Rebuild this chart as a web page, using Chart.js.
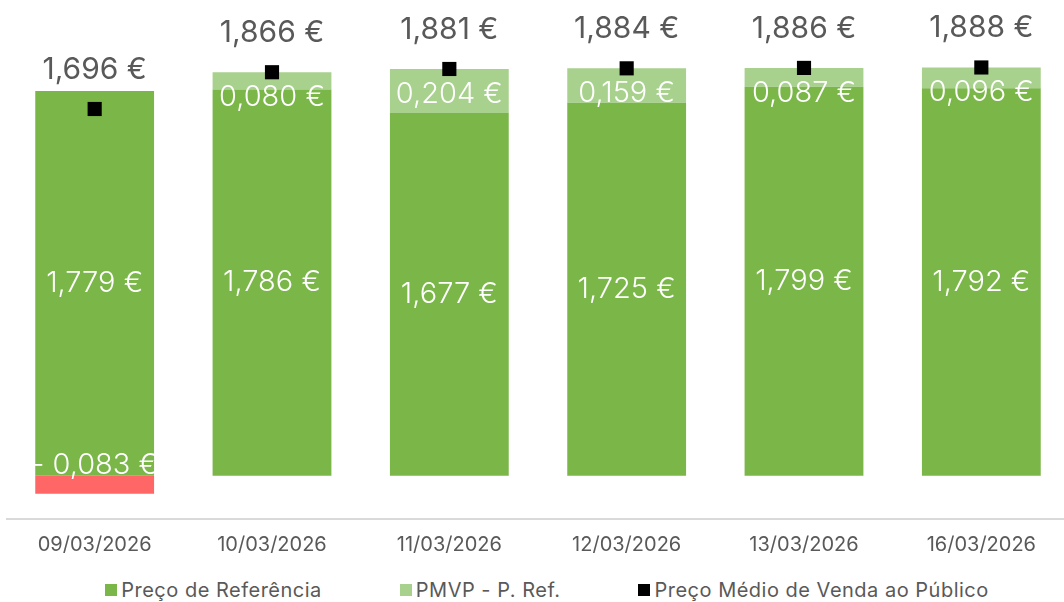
<!DOCTYPE html>
<html>
<head>
<meta charset="utf-8">
<script src="https://cdn.jsdelivr.net/npm/chart.js@4"></script>
<style>
    html, body {margin: 0; padding: 0; background: #fff; width: 1064px; height: 602px; overflow: hidden; position: relative;}
    #wrap {position: absolute; left: 6px; top: 0; width: 1064px; height: 571px;}
    #legend {position: absolute; left: 0; top: 578px; width: 1064px; display: flex; justify-content: center; padding-left: 30px; box-sizing: border-box;
        font: 20px Inter, sans-serif; letter-spacing: 0.5px; color: #595959; line-height: 24px;}
    #legend .item {display: flex; align-items: center; margin-right: 78px;}
    #legend .item:last-child {margin-right: 0;}
    #legend .box {width: 12px; height: 12px; margin-right: 4px;}
</style>
</head>
<body>
<div id="wrap"><canvas id="myChart"></canvas></div>
<div id="legend"></div>
<script>
const datas = ['09/03/2026', '10/03/2026', '11/03/2026', '12/03/2026', '13/03/2026', '16/03/2026'];
const precoReferencia = [1.779, 1.786, 1.677, 1.725, 1.799, 1.792];
const diferenca = [-0.083, 0.080, 0.204, 0.159, 0.087, 0.096];
const precoMedio = [1.696, 1.866, 1.881, 1.884, 1.886, 1.888];

const verde = '#7ab648', verdeClaro = '#a9d18e', vermelho = '#ff6666', cinza = '#595959';

function fmt(v) {
    let s = Math.abs(v).toFixed(3).replace('.', ',') + ' €';
    return v < 0 ? '- ' + s : s;
}

// etiquetas de valor desenhadas por cima das barras
const etiquetas = {
    id: 'etiquetas',
    afterDatasetsDraw(chart) {
        const c = chart.ctx;
        c.save();
        c.textAlign = 'center';
        c.textBaseline = 'middle';

        chart.getDatasetMeta(0).data.forEach(function (el, i) {
            c.font = '300 29px Inter, sans-serif';
            c.fillStyle = '#fff';
            c.fillText(fmt(precoReferencia[i]), el.x, (el.y + el.base) / 2);
        });
        chart.getDatasetMeta(1).data.forEach(function (el, i) {
            c.font = '300 29px Inter, sans-serif';
            c.fillStyle = '#fff';
            if (diferenca[i] < 0) {
                c.fillText(fmt(diferenca[i]), el.x, el.base - 10);
            } else {
                c.fillText(fmt(diferenca[i]), el.x, el.y + 25);
            }
        });
        chart.getDatasetMeta(2).data.forEach(function (el, i) {
            c.font = '400 30px Inter, sans-serif';
            c.fillStyle = cinza;
            c.fillText(fmt(precoMedio[i]), el.x, el.y - 39);
        });
        c.restore();
    }
};

const myChart = new Chart(document.getElementById('myChart'), {
    type: 'bar',
    data: {
        labels: datas,
        datasets: [{
            label: 'Preço de Referência',
            data: precoReferencia,
            backgroundColor: verde,
            stack: 'preco',
            order: 1,
            barPercentage: 0.67,
            categoryPercentage: 1
        }, {
            label: 'PMVP - P. Ref.',
            data: diferenca,
            backgroundColor: function (ctx) {
                return ctx.raw < 0 ? vermelho : verdeClaro;
            },
            stack: 'preco',
            order: 1,
            barPercentage: 0.67,
            categoryPercentage: 1
        }, {
            type: 'line',
            label: 'Preço Médio de Venda ao Público',
            data: precoMedio,
            showLine: false,
            stack: 'pmvp',
            order: 0,
            pointStyle: 'rect',
            pointRadius: 10,
            pointHoverRadius: 10,
            backgroundColor: '#000',
            borderColor: '#000',
            borderWidth: 0
        }]
    },
    options: {
        responsive: true,
        maintainAspectRatio: false,
        animation: false,
        layout: {padding: 0, autoPadding: false},
        plugins: {legend: {display: false}, tooltip: {enabled: false}},
        scales: {
            x: {
                stacked: true,
                grid: {display: false, drawTicks: false},
                border: {display: true, color: '#d9d9d9', width: 2},
                ticks: {color: cinza, font: {family: 'Inter, sans-serif', size: 20}, padding: 14}
            },
            y: {
                stacked: true,
                display: false,
                min: -0.2,
                max: 2.2
            }
        }
    },
    plugins: [etiquetas]
});

// legenda em HTML
const cores = [verde, verdeClaro, '#000'];
myChart.data.datasets.forEach(function (ds, k) {
    const item = document.createElement('div');
    item.className = 'item';
    item.innerHTML = '<span class="box" style="background:' + cores[k] + '"></span><span>' + ds.label + '</span>';
    document.getElementById('legend').appendChild(item);
});
</script>
</body>
</html>
